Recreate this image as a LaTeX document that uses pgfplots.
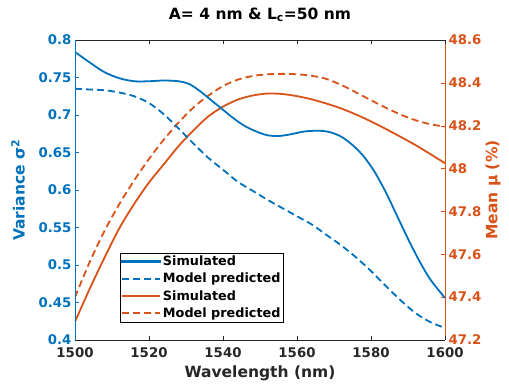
\documentclass[border=0pt]{standalone}
\usepackage{pgfplots}
\pgfplotsset{compat=1.18}
\usepackage{fontspec}
\setmainfont{DejaVu Sans}
\definecolor{mblue}{rgb}{0,0.447,0.741}
\definecolor{morange}{rgb}{0.85,0.325,0.098}
\definecolor{mgray}{rgb}{0.15,0.15,0.15}
\begin{document}
\begin{tikzpicture}[font=\bfseries]
\pgfplotsset{every axis/.append style={
  scale only axis, width=370pt, height=300pt,
  xmin=1500, xmax=1600,
  /pgf/number format/assume math mode=true,
  /pgf/number format/1000 sep={},
  tick align=inside, major tick length=4pt,
  tick label style={font=\fontsize{13.3}{15}\selectfont\bfseries},
  label style={font=\fontsize{15.5}{17}\selectfont\bfseries},
  axis line style={line width=0.7pt},
}}
\path[use as bounding box] (-75pt,-44pt) rectangle (434pt,340pt);
\begin{axis}[
  axis x line=none,
  axis y line*=right,
  ymin=47.2, ymax=48.6,
  ytick={47.2,47.4,47.6,47.8,48,48.2,48.4,48.6},
  yticklabels={47.2,47.4,47.6,47.8,48,48.2,48.4,48.6},
  y axis line style={morange},
  y tick style={morange},
  y tick label style={morange},
  ylabel={Mean μ (\%)},
  ylabel style={morange, at={(axis description cs:1.13,0.5)}, anchor=center},
]
\addplot[morange, line width=1.8pt, smooth] coordinates {
(1500,47.285) (1504,47.44) (1508,47.585) (1512,47.722) (1516,47.835) (1520,47.935)
(1524,48.02) (1528,48.105) (1532,48.178) (1536,48.243) (1540,48.289) (1544,48.322)
(1548,48.341) (1552,48.350) (1556,48.348) (1560,48.338) (1564,48.323) (1568,48.303)
(1572,48.280) (1576,48.252) (1580,48.220) (1584,48.185) (1588,48.148) (1592,48.110)
(1596,48.068) (1600,48.025)};
\addplot[morange, line width=1.8pt, dash pattern=on 7pt off 4pt, smooth] coordinates {
(1500,47.40) (1504,47.565) (1508,47.71) (1512,47.835) (1516,47.945) (1520,48.045)
(1524,48.135) (1528,48.215) (1532,48.285) (1536,48.34) (1540,48.385) (1544,48.415)
(1548,48.432) (1552,48.44) (1556,48.442) (1560,48.44) (1564,48.433) (1568,48.418)
(1572,48.390) (1576,48.355) (1580,48.319) (1584,48.284) (1588,48.252) (1592,48.226)
(1596,48.207) (1600,48.196)};
\end{axis}
\begin{axis}[
  axis y line*=left,
  ymin=0.4, ymax=0.8,
  ytick={0.4,0.45,0.5,0.55,0.6,0.65,0.7,0.75,0.8},
  yticklabels={0.4,0.45,0.5,0.55,0.6,0.65,0.7,0.75,0.8},
  xtick={1500,1520,1540,1560,1580,1600},
  x axis line style={mgray},
  x tick style={mgray},
  x tick label style={mgray, yshift=-4pt},
  y axis line style={mblue},
  y tick style={mblue},
  y tick label style={mblue},
  xlabel={Wavelength (nm)},
  xlabel style={mgray, at={(axis description cs:0.5,-0.11)}, anchor=center},
  ylabel={Variance σ\textsuperscript{2}},
  ylabel style={mblue, at={(axis description cs:-0.154,0.5)}, anchor=center},
  title={A= 4 nm \& L\textsubscript{c}=50 nm},
  title style={font=\fontsize{15.5}{17}\selectfont\bfseries, at={(axis description cs:0.5,1)}, anchor=base, yshift=15pt},
  legend style={at={(rel axis cs:0.1216,0.06)}, anchor=south west, draw=black, fill=white,
    font=\fontsize{12.8}{14}\selectfont\bfseries,
    row sep=2pt, inner xsep=1pt, inner ysep=1pt},
  legend cell align=left,
  legend image code/.code={%
    \draw[#1, line width=1.8pt] (0pt,0pt) -- (38pt,0pt);},
]
\addplot[mblue, line width=1.8pt, smooth,
  legend image code/.code={\fill[mblue] (0pt,-0.9pt) rectangle (38pt,0.9pt);}] coordinates {
(1500,0.784) (1504,0.770) (1508,0.757) (1512,0.749) (1516,0.745) (1520,0.745)
(1524,0.746) (1528,0.745) (1531,0.741) (1534,0.731) (1537,0.719) (1540,0.707)
(1543,0.695) (1546,0.685) (1549,0.678) (1552,0.673) (1555,0.672) (1558,0.674)
(1562,0.678) (1566,0.679) (1569,0.677) (1572,0.671) (1575,0.660) (1578,0.645)
(1581,0.624) (1584,0.597) (1587,0.566) (1590,0.535) (1593,0.506) (1596,0.481)
(1600,0.456)};
\addlegendentry{Simulated}
\addplot[mblue, line width=1.8pt, dash pattern=on 7pt off 4pt, smooth] coordinates {
(1500,0.735) (1504,0.734) (1508,0.733) (1512,0.730) (1516,0.725) (1520,0.716)
(1524,0.701) (1528,0.682) (1532,0.662) (1536,0.643) (1540,0.627) (1544,0.611)
(1548,0.599) (1552,0.587) (1556,0.576) (1560,0.565) (1564,0.554) (1568,0.540)
(1572,0.526) (1576,0.510) (1580,0.492) (1584,0.472) (1588,0.453) (1592,0.436)
(1596,0.424) (1600,0.416)};
\addlegendentry{Model predicted}
\addlegendimage{morange, solid}
\addlegendentry{Simulated}
\addlegendimage{morange, dash pattern=on 7pt off 4pt}
\addlegendentry{Model predicted}
\end{axis}
\end{tikzpicture}
\end{document}
